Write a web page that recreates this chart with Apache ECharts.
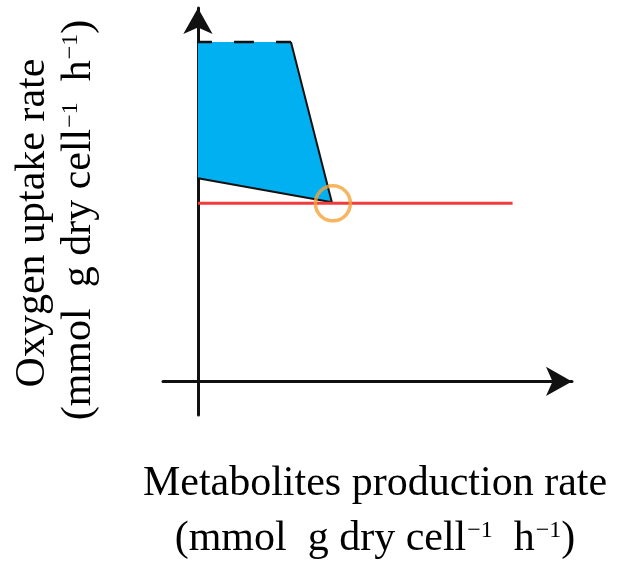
<!DOCTYPE html>
<html>
<head>
<meta charset="utf-8">
<script src="https://cdn.jsdelivr.net/npm/echarts@6/dist/echarts.min.js"></script>
<style>
  html, body { margin: 0; padding: 0; background: #fff; }
  #chart { width: 619px; height: 565px; }
</style>
</head>
<body>
<div id="chart"></div>
<script>
// Feasible region (oxygen uptake vs. metabolite production), in arbitrary units
const regionX = [0, 2.66, 3.83, 0];
const regionY = [9.09, 9.09, 4.80, 5.44];

// Oxygen supply limit
const limitX = [0, 9.0];
const limitY = [4.77, 4.77];

// Operating point where the region meets the limit
const pointX = [3.86];
const pointY = [4.77];

// Axis extents
const xRange = [-1, 10.7];
const yRange = [-0.9, 10];

const xTitle1 = 'Metabolites production rate';
const yTitle1 = 'Oxygen uptake rate';
const unitParts = ['(mmol  g dry cell', '\u22121', '  h', '\u22121', ')'];

const serif = "'Liberation Serif', 'Times New Roman', serif";
const unitRich = '{n|' + unitParts[0] + '}{s|' + unitParts[1] + '}{n|' + unitParts[2] + '}{s|' + unitParts[3] + '}{n|' + unitParts[4] + '}';
const richStyle = {
  n: { fontFamily: serif, fontSize: 42, fill: '#000', lineHeight: 48 },
  s: { fontFamily: serif, fontSize: 24, fill: '#000', lineHeight: 48, verticalAlign: 'top', padding: [4, 0, 0, 1] }
};

const chart = echarts.init(document.getElementById('chart'), null, { renderer: 'canvas' });

const axisLine = {
  show: true,
  onZero: true,
  symbol: ['none', 'arrow'],
  symbolSize: [22, 26],
  symbolOffset: [0, 0],
  lineStyle: { color: '#111', width: 3 }
};

chart.setOption({
  animation: false,
  backgroundColor: '#fff',
  grid: { left: 163, right: 47, top: 8, bottom: 150 },
  xAxis: {
    type: 'value', min: xRange[0], max: xRange[1],
    axisLine: axisLine,
    axisTick: { show: false }, axisLabel: { show: false }, splitLine: { show: false }
  },
  yAxis: {
    type: 'value', min: yRange[0], max: yRange[1],
    axisLine: axisLine,
    axisTick: { show: false }, axisLabel: { show: false }, splitLine: { show: false }
  },
  series: [
    {
      type: 'custom',
      z: 1,
      data: [[0, 0]],
      renderItem: function (params, api) {
        const pts = regionX.map(function (x, i) { return api.coord([x, regionY[i]]); });
        return {
          type: 'group',
          children: [
            { type: 'polygon', shape: { points: pts }, style: { fill: '#00B0F0', stroke: null } },
            { type: 'polyline', shape: { points: [pts[0], pts[1]] },
              style: { stroke: '#111', lineWidth: 2.5, lineDash: [20, 22], lineDashOffset: 6, fill: null } },
            { type: 'polyline', shape: { points: [pts[1], pts[2], pts[3]] },
              style: { stroke: '#111', lineWidth: 2, fill: null } }
          ]
        };
      }
    },
    {
      type: 'line',
      z: 2,
      data: limitX.map(function (x, i) { return [x, limitY[i]]; }),
      showSymbol: false,
      lineStyle: { color: '#F03C3C', width: 3 }
    },
    {
      type: 'scatter',
      z: 3,
      data: pointX.map(function (x, i) { return [x, pointY[i]]; }),
      symbol: 'circle',
      symbolSize: 35,
      itemStyle: { color: 'rgba(0,0,0,0)', borderColor: '#F5A23A', borderWidth: 3.5 }
    }
  ],
  graphic: [
    { type: 'text', x: 375, y: 484, style: { text: xTitle1, fontFamily: serif, fontSize: 42, fill: '#000', textAlign: 'center', textVerticalAlign: 'middle' } },
    { type: 'text', x: 375, y: 539, style: { text: unitRich, rich: richStyle, textAlign: 'center', textVerticalAlign: 'middle' } },
    { type: 'text', x: 33, y: 223, rotation: Math.PI / 2, style: { text: yTitle1, fontFamily: serif, fontSize: 42, fill: '#000', textAlign: 'center', textVerticalAlign: 'middle' } },
    { type: 'text', x: 79, y: 220, rotation: Math.PI / 2, style: { text: unitRich, rich: richStyle, textAlign: 'center', textVerticalAlign: 'middle' } }
  ]
});
</script>
</body>
</html>
